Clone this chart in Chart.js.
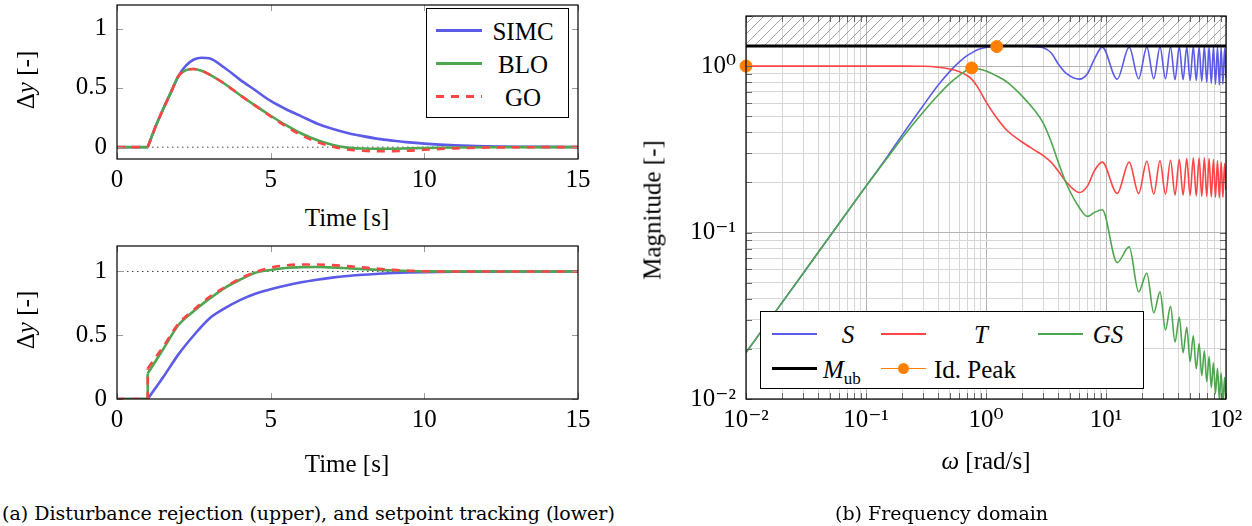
<!DOCTYPE html>
<html>
<head>
<meta charset="utf-8">
<script src="https://cdn.jsdelivr.net/npm/chart.js@4.4.1/dist/chart.umd.min.js"></script>
<style>
  body { margin: 0; width: 1252px; height: 526px; position: relative; overflow: hidden; background: #fff;
         font-family: "Liberation Serif", "DejaVu Serif", serif; color: #000; }
  canvas { position: absolute; }
  .txt { position: absolute; white-space: nowrap; font-size: 25px; line-height: 1; }
  .rot { transform: translate(-50%, -50%) rotate(-90deg); }
  .ctr { transform: translate(-50%, -50%); }
  .box { position: absolute; border: 1px solid #000; background: #fff; box-sizing: border-box; }
  .ln { position: absolute; height: 3px; }
  .cap { position: absolute; white-space: nowrap; font-size: 19px; line-height: 1; transform: translateY(-50%);
         font-family: "DejaVu Serif", "Liberation Serif", serif; }
</style>
</head>
<body>
<canvas id="upper" width="600" height="200" style="left:0;top:0"></canvas>
<canvas id="lower" width="600" height="210" style="left:0;top:240px"></canvas>
<canvas id="freq" width="622" height="490" style="left:630px;top:0"></canvas>

<!-- axis titles -->
<div class="txt rot" style="left:25px;top:80px">&Delta;<i>y</i> [-]</div>
<div class="txt ctr" style="left:347px;top:217px">Time [s]</div>
<div class="txt rot" style="left:25px;top:320px">&Delta;<i>y</i> [-]</div>
<div class="txt ctr" style="left:347px;top:463px">Time [s]</div>
<div class="txt rot" style="left:652px;top:210px">Magnitude [-]</div>
<div class="txt ctr" style="left:986px;top:460px"><i>&omega;</i> [rad/s]</div>

<!-- legend, time plots -->
<div class="box" style="left:426px;top:8px;width:143px;height:110px">
  <div class="ln" style="left:9px;top:20px;width:46px;background:#5b5be8"></div>
  <div class="txt ctr" style="left:96px;top:22px">SIMC</div>
  <div class="ln" style="left:9px;top:53px;width:46px;background:#4ea64e"></div>
  <div class="txt ctr" style="left:96px;top:55px">BLO</div>
  <div class="ln" style="left:9px;top:86px;width:46px;background:repeating-linear-gradient(to right,#ff4545 0 8px,transparent 8px 15px)"></div>
  <div class="txt ctr" style="left:96px;top:88px">GO</div>
</div>

<!-- legend, frequency plot -->
<div class="box" style="left:760px;top:311px;width:384px;height:78px">
  <div class="ln" style="left:11px;top:21px;width:45px;height:2px;background:#5b5be8"></div>
  <div class="txt ctr" style="left:87px;top:22px"><i>S</i></div>
  <div class="ln" style="left:120px;top:21px;width:45px;height:2px;background:#ff4545"></div>
  <div class="txt ctr" style="left:220px;top:22px"><i>T</i></div>
  <div class="ln" style="left:277px;top:21px;width:45px;height:2px;background:#4ea64e"></div>
  <div class="txt ctr" style="left:347px;top:22px"><i>GS</i></div>
  <div class="ln" style="left:11px;top:55px;width:45px;background:#000"></div>
  <div class="txt" style="left:62px;top:45px"><i>M</i><sub style="font-size:17px">ub</sub></div>
  <div class="ln" style="left:120px;top:56px;width:45px;height:1px;background:#ff8000"></div>
  <div style="position:absolute;left:137px;top:51px;width:11px;height:11px;border-radius:50%;background:#ff8000"></div>
  <div class="txt" style="left:173px;top:45px">Id. Peak</div>
</div>

<div class="cap" style="left:2px;top:513px">(a) Disturbance rejection (upper), and setpoint tracking (lower)</div>
<div class="cap" style="left:835px;top:513px">(b) Frequency domain</div>

<script>
// ---- time responses ----
var tUp = [0, 1, 1.25, 1.5, 1.75, 2, 2.25, 2.5, 2.75, 3, 3.5, 4, 4.5, 5, 5.5, 6, 6.5, 7, 7.5, 8, 8.5, 9, 9.5, 10, 11, 12, 13, 14, 15];
var simcUp = [0, 0, 0.17, 0.32, 0.46, 0.6, 0.69, 0.74, 0.755, 0.75, 0.67, 0.57, 0.48, 0.39, 0.32, 0.26, 0.2, 0.155, 0.12, 0.093, 0.07, 0.054, 0.04, 0.03, 0.016, 0.008, 0.004, 0.002, 0.001];
var bloUp = [0, 0, 0.17, 0.32, 0.46, 0.6, 0.65, 0.66, 0.645, 0.615, 0.535, 0.44, 0.35, 0.265, 0.185, 0.115, 0.06, 0.02, -0.004, -0.012, -0.014, -0.013, -0.01, -0.007, -0.003, -0.001, 0, 0, 0];
var goUp = [0, 0, 0.17, 0.32, 0.46, 0.6, 0.65, 0.66, 0.645, 0.615, 0.535, 0.44, 0.35, 0.26, 0.175, 0.1, 0.045, 0.005, -0.02, -0.031, -0.035, -0.034, -0.03, -0.022, -0.01, -0.003, -0.001, 0, 0];

// the step enters at t = 1 (BLO and GO jump there)
var tLow = [0, 1, 1, 1.5, 2, 2.5, 3, 3.5, 4, 4.5, 5, 5.5, 6, 6.5, 7, 7.5, 8, 8.5, 9, 9.5, 10, 11, 12, 13, 14, 15];
var simcLow = [0, 0, 0, 0.17, 0.35, 0.5, 0.63, 0.71, 0.775, 0.825, 0.86, 0.89, 0.915, 0.935, 0.952, 0.965, 0.975, 0.982, 0.988, 0.992, 0.995, 0.998, 0.999, 1, 1, 1];
var bloLow = [0, 0, 0.2, 0.39, 0.58, 0.69, 0.785, 0.87, 0.935, 0.99, 1.012, 1.028, 1.034, 1.035, 1.031, 1.026, 1.019, 1.013, 1.008, 1.004, 1.001, 1, 1, 1, 1, 1];
var goLow = [0, 0, 0.24, 0.41, 0.59, 0.7, 0.8, 0.875, 0.945, 0.995, 1.03, 1.048, 1.055, 1.055, 1.05, 1.042, 1.032, 1.022, 1.013, 1.006, 1.002, 1, 1, 1, 1, 1];

var timeTicks = [0, 5, 10, 15];
var respTicks = [0, 0.5, 1];

// ---- frequency domain ----
var omega = [0.01, 0.03, 0.1, 0.15, 0.2, 0.3, 0.4, 0.5, 0.6, 0.7, 0.76, 0.85, 1.0, 1.2, 1.5, 2.0, 2.5, 3.0, 3.5, 4.0, 4.7, 6.0, 7.0, 8.0, 9.3,
             12.4, 15.6, 18.7, 21.9, 25.0, 28.2, 31.3, 34.5, 37.6, 40.8, 43.9, 47.1, 50.2, 53.4, 56.5, 59.7, 62.8, 66.0, 69.1, 72.3,
             75.4, 78.6, 81.7, 84.9, 88.0, 91.2, 94.2, 97.4, 100];
var magS = [0.019, 0.057, 0.19, 0.285, 0.385, 0.58, 0.77, 0.93, 1.06, 1.16, 1.2, 1.255, 1.295, 1.315, 1.32, 1.32, 1.31, 1.29, 1.2, 1.03, 0.9, 0.835, 0.9, 1.1, 1.3,
            0.835, 1.3, 0.84, 1.3, 0.84, 1.3, 0.84, 1.3, 0.83, 1.31, 0.83, 1.3, 0.82, 1.31, 0.82, 1.3, 0.81, 1.31, 0.8, 1.3,
            0.79, 1.3, 0.78, 1.3, 0.77, 1.29, 0.78, 1.28, 0.85];
var magT = [1, 1, 1, 1, 1, 0.998, 0.985, 0.96, 0.925, 0.875, 0.835, 0.75, 0.61, 0.5, 0.41, 0.35, 0.315, 0.29, 0.264, 0.234, 0.2, 0.174, 0.19, 0.235, 0.265,
            0.172, 0.265, 0.172, 0.268, 0.17, 0.27, 0.17, 0.272, 0.168, 0.275, 0.168, 0.278, 0.167, 0.28, 0.166, 0.28, 0.165, 0.28, 0.165, 0.278,
            0.164, 0.275, 0.163, 0.27, 0.162, 0.265, 0.163, 0.26, 0.18];
var magGS = [0.019, 0.057, 0.19, 0.28, 0.37, 0.53, 0.67, 0.79, 0.88, 0.95, 0.975, 0.965, 0.935, 0.88, 0.8, 0.66, 0.55, 0.455, 0.35, 0.265, 0.195, 0.141, 0.125, 0.132, 0.137,
             0.066, 0.082, 0.044, 0.057, 0.033, 0.044, 0.026, 0.036, 0.022, 0.031, 0.019, 0.027, 0.0168, 0.024, 0.0152, 0.0215, 0.0138, 0.0195, 0.0127, 0.018,
             0.0117, 0.0165, 0.0108, 0.0153, 0.01, 0.0143, 0.0094, 0.0135, 0.009];
var mub = 1.32;
var peakW = [0.01, 0.76, 1.23];
var peakM = [1.0, 0.975, 1.31];
var exps = [-2, -1, 0, 1, 2];
var supers = { '-2': '\u207B\u00B2', '-1': '\u207B\u00B9', '0': '\u2070', '1': '\u00B9', '2': '\u00B2' };

var BLUE = '#5b5be8', GREEN = '#4ea64e', RED = '#ff4545', ORANGE = '#ff8000';

Chart.defaults.font.family = '"Liberation Serif", "DejaVu Serif", serif';
Chart.defaults.font.size = 25;
Chart.defaults.color = '#000';

function xy(xs, ys) {
  return xs.map(function (x, i) { return { x: x, y: ys[i] }; });
}

// border + inward tick marks
var framePlugin = {
  id: 'frame',
  afterDatasetsDraw: function (chart, args, opts) {
    var ctx = chart.ctx, a = chart.chartArea, len = opts.len || 5;
    ctx.save();
    ctx.strokeStyle = opts.color || '#999';
    ctx.lineWidth = 1;
    chart.scales.x.ticks.forEach(function (t) {
      var p = Math.round(chart.scales.x.getPixelForValue(t.value)) + 0.5;
      ctx.beginPath();
      ctx.moveTo(p, a.bottom); ctx.lineTo(p, a.bottom - len);
      ctx.moveTo(p, a.top); ctx.lineTo(p, a.top + len);
      ctx.stroke();
    });
    chart.scales.y.ticks.forEach(function (t) {
      var p = Math.round(chart.scales.y.getPixelForValue(t.value)) + 0.5;
      ctx.beginPath();
      ctx.moveTo(a.left, p); ctx.lineTo(a.left + len, p);
      ctx.moveTo(a.right, p); ctx.lineTo(a.right - len, p);
      ctx.stroke();
    });
    ctx.strokeStyle = '#000';
    ctx.lineWidth = 1.2;
    ctx.strokeRect(a.left, a.top, a.right - a.left, a.bottom - a.top);
    ctx.restore();
  }
};

function plainLabel(v) { return String(v); }
function fixX(h) { return function (s) { s.height = h; s.paddingLeft = 0; s.paddingRight = 0; }; }
function fixY(w) { return function (s) { s.width = w; s.paddingTop = 0; s.paddingBottom = 0; }; }

// one series = straight lead-in up to index k, smooth curve from k on
function seriesSets(t, ys, k, color, dash, order) {
  var base = { borderColor: color, borderWidth: 2.6, borderDash: dash, pointRadius: 0, order: order };
  return [
    Object.assign({ data: xy(t.slice(0, k + 1), ys.slice(0, k + 1)), tension: 0 }, base),
    Object.assign({ data: xy(t.slice(k), ys.slice(k)), cubicInterpolationMode: 'monotone' }, base)
  ];
}

function timeChart(id, t, simc, blo, go, k, refY, yMin, padTop, padBottom) {
  var sets = [{ data: xy([0, 15], [refY, refY]), borderColor: '#444', borderWidth: 1, borderDash: [1.5, 3.5], pointRadius: 0, order: 4 }]
    .concat(seriesSets(t, simc, k, BLUE, [], 3))
    .concat(seriesSets(t, blo, k, GREEN, [], 2))
    .concat(seriesSets(t, go, k, RED, [8, 7], 1));
  new Chart(id, {
    type: 'line',
    data: { datasets: sets },
    options: {
      responsive: false,
      animation: false,
      layout: { padding: { left: 0, right: 22, top: padTop, bottom: padBottom } },
      plugins: { legend: { display: false }, tooltip: { enabled: false }, frame: { len: 6, color: '#9a9a9a' } },
      scales: {
        x: {
          type: 'linear', min: 0, max: 15,
          afterBuildTicks: function (s) { s.ticks = timeTicks.map(function (v) { return { value: v }; }); },
          afterFit: fixX(35),
          grid: { display: false, drawTicks: false },
          border: { display: false },
          ticks: { padding: 6, maxRotation: 0, callback: plainLabel }
        },
        y: {
          min: yMin, max: 1.2,
          afterBuildTicks: function (s) { s.ticks = respTicks.map(function (v) { return { value: v }; }); },
          afterFit: fixY(117),
          grid: { display: false, drawTicks: false },
          border: { display: false },
          ticks: { padding: 10, callback: plainLabel }
        }
      }
    },
    plugins: [framePlugin]
  });
}

timeChart('upper', tUp, simcUp, bloUp, goUp, 1, 0, -0.1, 5, 6);
timeChart('lower', tLow, simcLow, bloLow, goLow, 2, 1, 0, 6, 16);

// hatch pattern for the region above M_ub
var pc = document.createElement('canvas');
pc.width = 10; pc.height = 10;
var pctx = pc.getContext('2d');
pctx.strokeStyle = '#8a8a8a';
pctx.lineWidth = 0.8;
pctx.beginPath();
pctx.moveTo(0, 10); pctx.lineTo(10, 0);
pctx.moveTo(-5, 5); pctx.lineTo(5, -5);
pctx.moveTo(5, 15); pctx.lineTo(15, 5);
pctx.stroke();
var hatch = pctx.createPattern(pc, 'repeat');

function logTicks(lo, hi) {
  var out = [];
  exps.forEach(function (e) {
    for (var m = 1; m <= 9; m++) {
      var v = +(m * Math.pow(10, e)).toPrecision(3);
      if (v >= lo - 1e-12 && v <= hi + 1e-12) out.push({ value: v });
    }
  });
  return out;
}
function isDecade(v) {
  var e = Math.log10(v);
  return Math.abs(e - Math.round(e)) < 1e-9;
}
function decadeLabel(v) {
  if (!isDecade(v)) return '';
  return '10' + supers[String(Math.round(Math.log10(v)))];
}
function gridColor(c) {
  return c.tick && isDecade(c.tick.value) ? '#b4b4b4' : '#d6d6d6';
}

new Chart('freq', {
  type: 'line',
  data: {
    datasets: [
      { data: xy(peakW, peakM), showLine: false, pointRadius: 6, pointBackgroundColor: ORANGE, pointBorderColor: ORANGE, clip: false, order: 0 },
      { data: xy([0.01, 100], [mub, mub]), borderColor: '#000', borderWidth: 3, pointRadius: 0, fill: 'end', backgroundColor: hatch, order: 1 },
      { data: xy(omega, magGS), borderColor: GREEN, borderWidth: 1.6, pointRadius: 0, cubicInterpolationMode: 'monotone', order: 2 },
      { data: xy(omega, magT), borderColor: RED, borderWidth: 1.6, pointRadius: 0, cubicInterpolationMode: 'monotone', order: 3 },
      { data: xy(omega, magS), borderColor: BLUE, borderWidth: 1.6, pointRadius: 0, cubicInterpolationMode: 'monotone', order: 4 }
    ]
  },
  options: {
    responsive: false,
    animation: false,
    layout: { padding: { left: 0, right: 26, top: 16, bottom: 41 } },
    plugins: { legend: { display: false }, tooltip: { enabled: false }, frame: { len: 6, color: '#666' } },
    scales: {
      x: {
        type: 'logarithmic', min: 0.01, max: 100,
        afterBuildTicks: function (s) { s.ticks = logTicks(0.01, 100); },
        afterFit: fixX(50),
        grid: { color: gridColor, drawTicks: false },
        border: { display: false },
        ticks: { autoSkip: false, maxRotation: 0, padding: 6, callback: decadeLabel }
      },
      y: {
        type: 'logarithmic', min: 0.01, max: 2,
        afterBuildTicks: function (s) { s.ticks = logTicks(0.01, 2); },
        afterFit: fixY(116),
        grid: { color: gridColor, drawTicks: false },
        border: { display: false },
        ticks: { autoSkip: false, padding: 10, callback: decadeLabel }
      }
    }
  },
  plugins: [framePlugin]
});
</script>
</body>
</html>
